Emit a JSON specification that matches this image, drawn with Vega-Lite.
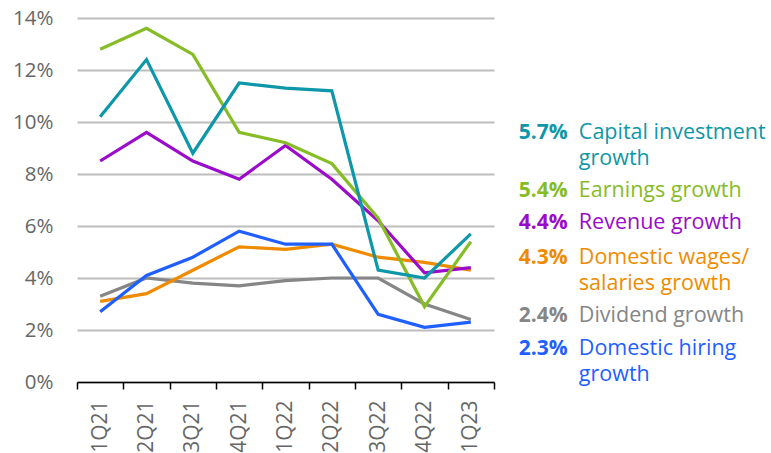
{
  "$schema": "https://vega.github.io/schema/vega-lite/v6.json",
  "width": 417,
  "height": 364,
  "autosize": {"type": "none"},
  "padding": {"left": 77, "top": 18, "right": 277, "bottom": 71},
  "background": "white",
  "config": {"font": "Open Sans", "view": {"stroke": null}},
  "datasets": {
    "series": [
      {"q": "1Q21", "series": "Dividend growth", "value": 3.3},
      {"q": "2Q21", "series": "Dividend growth", "value": 4.0},
      {"q": "3Q21", "series": "Dividend growth", "value": 3.8},
      {"q": "4Q21", "series": "Dividend growth", "value": 3.7},
      {"q": "1Q22", "series": "Dividend growth", "value": 3.9},
      {"q": "2Q22", "series": "Dividend growth", "value": 4.0},
      {"q": "3Q22", "series": "Dividend growth", "value": 4.0},
      {"q": "4Q22", "series": "Dividend growth", "value": 3.0},
      {"q": "1Q23", "series": "Dividend growth", "value": 2.4},
      {"q": "1Q21", "series": "Domestic wages/salaries growth", "value": 3.1},
      {"q": "2Q21", "series": "Domestic wages/salaries growth", "value": 3.4},
      {"q": "3Q21", "series": "Domestic wages/salaries growth", "value": 4.3},
      {"q": "4Q21", "series": "Domestic wages/salaries growth", "value": 5.2},
      {"q": "1Q22", "series": "Domestic wages/salaries growth", "value": 5.1},
      {"q": "2Q22", "series": "Domestic wages/salaries growth", "value": 5.3},
      {"q": "3Q22", "series": "Domestic wages/salaries growth", "value": 4.8},
      {"q": "4Q22", "series": "Domestic wages/salaries growth", "value": 4.6},
      {"q": "1Q23", "series": "Domestic wages/salaries growth", "value": 4.3},
      {"q": "1Q21", "series": "Domestic hiring growth", "value": 2.7},
      {"q": "2Q21", "series": "Domestic hiring growth", "value": 4.1},
      {"q": "3Q21", "series": "Domestic hiring growth", "value": 4.8},
      {"q": "4Q21", "series": "Domestic hiring growth", "value": 5.8},
      {"q": "1Q22", "series": "Domestic hiring growth", "value": 5.3},
      {"q": "2Q22", "series": "Domestic hiring growth", "value": 5.3},
      {"q": "3Q22", "series": "Domestic hiring growth", "value": 2.6},
      {"q": "4Q22", "series": "Domestic hiring growth", "value": 2.1},
      {"q": "1Q23", "series": "Domestic hiring growth", "value": 2.3},
      {"q": "1Q21", "series": "Revenue growth", "value": 8.5},
      {"q": "2Q21", "series": "Revenue growth", "value": 9.6},
      {"q": "3Q21", "series": "Revenue growth", "value": 8.5},
      {"q": "4Q21", "series": "Revenue growth", "value": 7.8},
      {"q": "1Q22", "series": "Revenue growth", "value": 9.1},
      {"q": "2Q22", "series": "Revenue growth", "value": 7.8},
      {"q": "3Q22", "series": "Revenue growth", "value": 6.2},
      {"q": "4Q22", "series": "Revenue growth", "value": 4.2},
      {"q": "1Q23", "series": "Revenue growth", "value": 4.4},
      {"q": "1Q21", "series": "Earnings growth", "value": 12.8},
      {"q": "2Q21", "series": "Earnings growth", "value": 13.6},
      {"q": "3Q21", "series": "Earnings growth", "value": 12.6},
      {"q": "4Q21", "series": "Earnings growth", "value": 9.6},
      {"q": "1Q22", "series": "Earnings growth", "value": 9.2},
      {"q": "2Q22", "series": "Earnings growth", "value": 8.4},
      {"q": "3Q22", "series": "Earnings growth", "value": 6.3},
      {"q": "4Q22", "series": "Earnings growth", "value": 2.9},
      {"q": "1Q23", "series": "Earnings growth", "value": 5.4},
      {"q": "1Q21", "series": "Capital investment growth", "value": 10.2},
      {"q": "2Q21", "series": "Capital investment growth", "value": 12.4},
      {"q": "3Q21", "series": "Capital investment growth", "value": 8.8},
      {"q": "4Q21", "series": "Capital investment growth", "value": 11.5},
      {"q": "1Q22", "series": "Capital investment growth", "value": 11.3},
      {"q": "2Q22", "series": "Capital investment growth", "value": 11.2},
      {"q": "3Q22", "series": "Capital investment growth", "value": 4.3},
      {"q": "4Q22", "series": "Capital investment growth", "value": 4.0},
      {"q": "1Q23", "series": "Capital investment growth", "value": 5.7}
    ],
    "labels": [
      {"series": "Capital investment growth", "pct": "5.7%", "label": ["Capital investment", "growth"], "labelY": 9.35},
      {"series": "Earnings growth", "pct": "5.4%", "label": ["Earnings growth"], "labelY": 7.13},
      {"series": "Revenue growth", "pct": "4.4%", "label": ["Revenue growth"], "labelY": 5.88},
      {"series": "Domestic wages/salaries growth", "pct": "4.3%", "label": ["Domestic wages/", "salaries growth"], "labelY": 4.54},
      {"series": "Dividend growth", "pct": "2.4%", "label": ["Dividend growth"], "labelY": 2.32},
      {"series": "Domestic hiring growth", "pct": "2.3%", "label": ["Domestic hiring", "growth"], "labelY": 1.04}
    ]
  },
  "layer": [
    {
      "data": {"name": "series"},
      "mark": {"type": "line", "strokeWidth": 3.2},
      "encoding": {
        "x": {
          "field": "q",
          "type": "ordinal",
          "sort": ["1Q21", "2Q21", "3Q21", "4Q21", "1Q22", "2Q22", "3Q22", "4Q22", "1Q23"],
          "scale": {"type": "band", "paddingInner": 0, "paddingOuter": 0},
          "axis": {
            "title": null,
            "labelAngle": -90,
            "labelFontSize": 21,
            "labelColor": "#666666",
            "labelPadding": 11,
            "domainColor": "#000000",
            "domainWidth": 1.5,
            "tickColor": "#000000",
            "tickWidth": 1.5,
            "tickSize": 7,
            "tickBand": "extent",
            "grid": false
          }
        },
        "y": {
          "field": "value",
          "type": "quantitative",
          "scale": {"domain": [0, 14], "nice": false},
          "axis": {
            "title": null,
            "values": [0, 2, 4, 6, 8, 10, 12, 14],
            "labelExpr": "datum.value + '%'",
            "labelFontSize": 20.5,
            "labelColor": "#666666",
            "labelPadding": 24,
            "domain": false,
            "ticks": false,
            "grid": true,
            "gridColor": "#BDBDBD",
            "gridWidth": 2
          }
        },
        "color": {
          "field": "series",
          "type": "nominal",
          "scale": {
            "domain": ["Capital investment growth", "Earnings growth", "Revenue growth", "Domestic wages/salaries growth", "Dividend growth", "Domestic hiring growth"],
            "range": ["#0E97A8", "#86BC25", "#9A0BCA", "#EF8B00", "#868686", "#1F5FFF"]
          },
          "legend": null
        },
        "detail": {"field": "series"}
      }
    },
    {
      "data": {"name": "labels"},
      "mark": {"type": "text", "align": "left", "baseline": "alphabetic", "fontSize": 21, "fontWeight": "bold", "dx": 48},
      "encoding": {
        "x": {"datum": "1Q23"},
        "y": {"field": "labelY", "type": "quantitative"},
        "text": {"field": "pct"},
        "color": {"field": "series", "type": "nominal", "legend": null}
      }
    },
    {
      "data": {"name": "labels"},
      "mark": {"type": "text", "align": "left", "baseline": "alphabetic", "fontSize": 21.5, "lineHeight": 26, "dx": 108},
      "encoding": {
        "x": {"datum": "1Q23"},
        "y": {"field": "labelY", "type": "quantitative"},
        "text": {"field": "label"},
        "color": {"field": "series", "type": "nominal", "legend": null}
      }
    }
  ]
}
